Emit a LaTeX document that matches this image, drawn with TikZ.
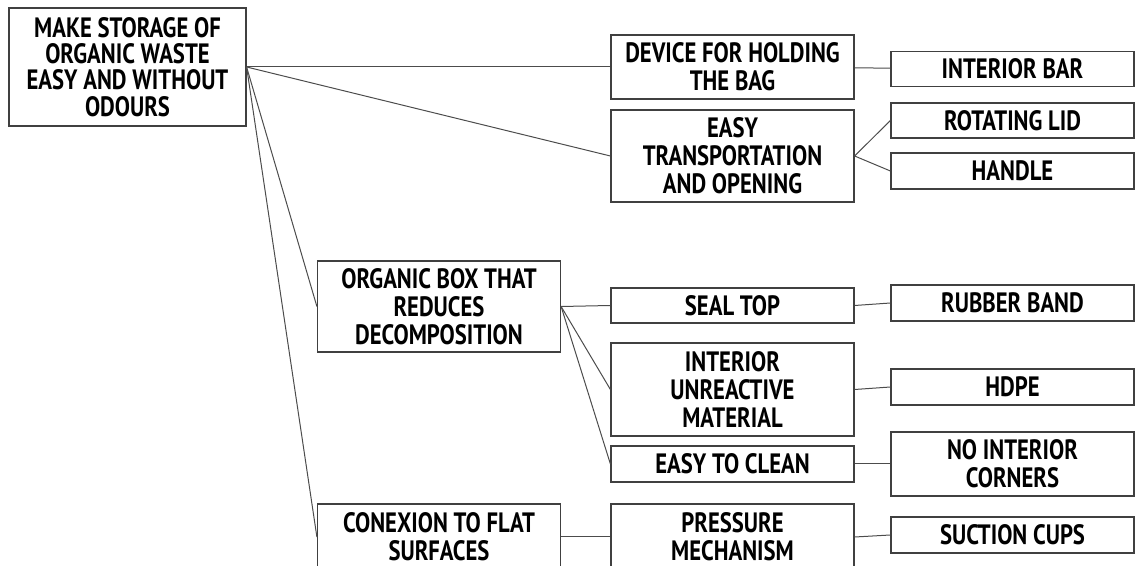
\documentclass[tikz,border=0pt]{standalone}
\usepackage{fontspec}
\setmainfont{PT Sans}[FakeStretch=0.81]
\usepackage{tikz}
\usetikzlibrary{positioning}

\begin{document}
\begin{tikzpicture}[
  x=0.5pt, y=-0.5pt,
  font=\fontsize{14}{14}\selectfont\bfseries,
  box/.style={rectangle, draw=black!75, line width=0.6pt, fill=white, align=center, inner sep=0pt, minimum width=121.5pt, minimum height=18pt},
  link/.style={draw=black!70, line width=0.5pt}
]
\useasboundingbox (0,0) rectangle (1136,566);
% goal
\node[box, minimum width=118.5pt, minimum height=59pt, font=\fontsize{14}{13.2}\selectfont\bfseries] (goal) at (127.5,67) {MAKE STORAGE OF\\ORGANIC WASTE\\EASY AND WITHOUT\\ODOURS};
% first branch
\node[box, minimum height=32pt] (device) at (732.5,67) {DEVICE FOR HOLDING\\THE BAG};
\node[box, minimum height=17.5pt] (bar) at (1012.5,69) {INTERIOR BAR};
\node[box, minimum height=46pt] (transport) at (732.5,156) {EASY\\TRANSPORTATION\\AND OPENING};
\node[box, minimum height=17.5pt] (lid) at (1012.5,120.5) {ROTATING LID};
\node[box] (handle) at (1012.5,171) {HANDLE};
% second branch
\node[box, minimum height=45.5pt] (organic) at (439,306.5) {ORGANIC BOX THAT\\REDUCES\\DECOMPOSITION};
\node[box, minimum height=17.5pt] (seal) at (732.5,305.5) {SEAL TOP};
\node[box] (rubber) at (1012.5,303) {RUBBER BAND};
\node[box, minimum height=46.5pt] (material) at (732.5,389.5) {INTERIOR\\UNREACTIVE\\MATERIAL};
\node[box] (hdpe) at (1012.5,387) {HDPE};
\node[box] (clean) at (732.5,464) {EASY TO CLEAN};
\node[box, minimum height=32pt] (corners) at (1012.5,464) {NO INTERIOR\\CORNERS};
% third branch
\node[box, minimum height=33pt] (flat) at (439,537) {CONEXION TO FLAT\\SURFACES};
\node[box, minimum height=33pt] (pressure) at (732.5,537) {PRESSURE\\MECHANISM};
\node[box] (cups) at (1012.5,535) {SUCTION CUPS};

\draw[link] (goal.east) -- (device.west);
\draw[link] (goal.east) -- (transport.west);
\draw[link] (goal.east) -- (organic.west);
\draw[link] (goal.east) -- (flat.west);
\draw[link] (device) -- (bar);
\draw[link] (transport.east) -- (lid.west);
\draw[link] (transport.east) -- (handle.west);
\draw[link] (organic.east) -- (seal.west);
\draw[link] (organic.east) -- (material.west);
\draw[link] (organic.east) -- (clean.west);
\draw[link] (seal.east) -- (rubber.west);
\draw[link] (material.east) -- (hdpe.west);
\draw[link] (clean.east) -- (corners.west);
\draw[link] (flat) -- (pressure);
\draw[link] (pressure.east) -- (cups.west);
\end{tikzpicture}
\end{document}
